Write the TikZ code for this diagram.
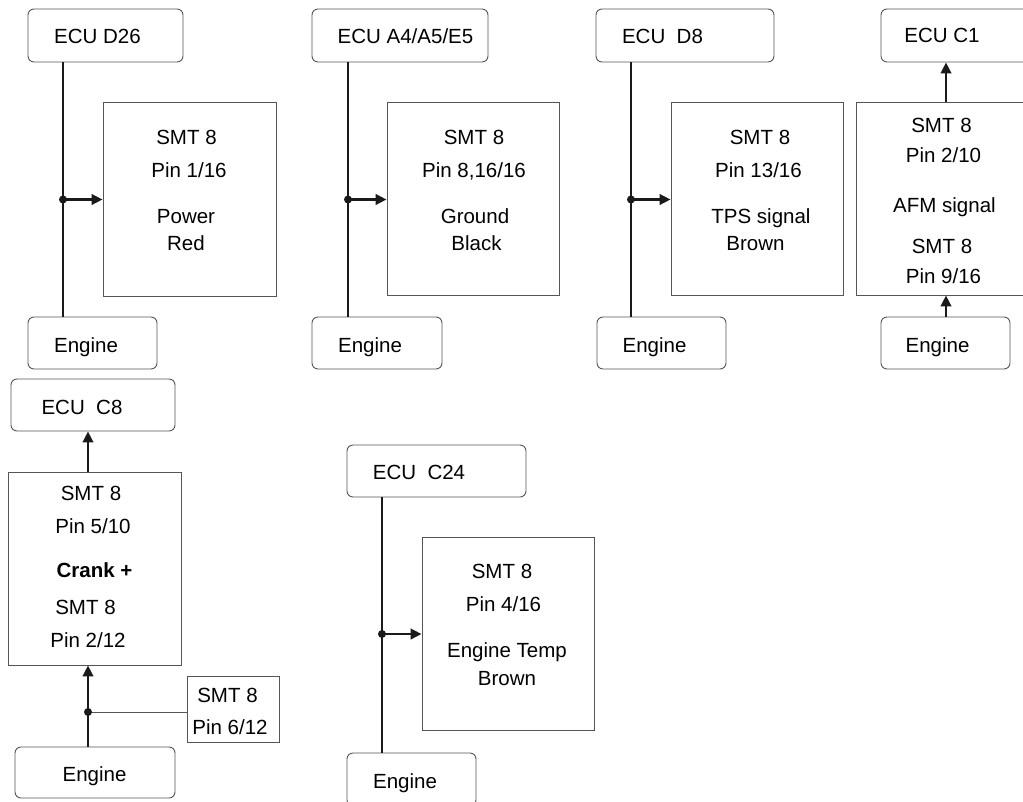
\documentclass[tikz,border=0pt]{standalone}
\usepackage{fontspec}
\setmainfont{Liberation Sans}
\usetikzlibrary{arrows.meta}
\definecolor{boxgray}{HTML}{555555}
\definecolor{wirecol}{HTML}{1A1A1A}
\tikzset{
  ecubox/.style={draw=boxgray, line width=0.9pt, rounded corners=6pt, rectangle, inner sep=0pt},
  smtbox/.style={draw=boxgray, line width=0.9pt, rectangle, inner sep=0pt},
  txt/.style={anchor=base, inner sep=0pt, font=\fontsize{20.5}{24}\selectfont},
  btxt/.style={txt, font=\fontsize{20.5}{24}\selectfont\bfseries},
  wire/.style={draw=wirecol, line width=2.5pt},
  arr/.style={-{Triangle[length=11pt,width=10.5pt]}},
  thin/.style={draw=boxgray, line width=0.9pt},
}
\begin{document}
\begin{tikzpicture}[x=1pt,y=-1pt]
\useasboundingbox (0,0) rectangle (1023,801);
\clip (0,0) rectangle (1023,801);
\fill[white] (0,0) rectangle (1023,801);

% ---------- Panel 1 ----------
\node[ecubox, minimum width=155pt, minimum height=53pt] (e1) at (105.5,35.5) {};
\node[smtbox, minimum width=173pt, minimum height=194pt] (s1) at (189.5,199) {};
\node[ecubox, minimum width=129pt, minimum height=52pt] (g1) at (92.5,343) {};
\node[txt] (e1t) at (97.5,43) {ECU D26};
\node[txt] (s1a) at (186.5,144) {SMT 8};
\node[txt] (s1b) at (189,177) {Pin 1/16};
\node[txt] (s1c) at (186,223) {Power};
\node[txt] (s1d) at (186,250) {Red};
\node[txt] (g1t) at (86,352) {Engine};
\coordinate (d1) at (63,199.5);
\draw[wire] (e1.south -| d1) -- (g1.north -| d1);
\fill[wirecol] (d1) circle (4pt);
\draw[wire,arr] (d1) -- (d1 -| s1.west);

% ---------- Panel 2 ----------
\node[ecubox, minimum width=176pt, minimum height=53pt] (e2) at (400,35.5) {};
\node[smtbox, minimum width=172pt, minimum height=193pt] (s2) at (473,198.5) {};
\node[ecubox, minimum width=130pt, minimum height=52pt] (g2) at (377,343) {};
\node[txt] (e2t) at (405.5,43) {ECU A4/A5/E5};
\node[txt] (s2a) at (474,144) {SMT 8};
\node[txt] (s2b) at (474,177) {Pin 8,16/16};
\node[txt] (s2c) at (475,223) {Ground};
\node[txt] (s2d) at (476.5,250) {Black};
\node[txt] (g2t) at (370,352) {Engine};
\coordinate (d2) at (348,199.5);
\draw[wire] (e2.south -| d2) -- (g2.north -| d2);
\fill[wirecol] (d2) circle (4pt);
\draw[wire,arr] (d2) -- (d2 -| s2.west);

% ---------- Panel 3 ----------
\node[ecubox, minimum width=178pt, minimum height=53pt] (e3) at (685,35.5) {};
\node[smtbox, minimum width=172pt, minimum height=193pt] (s3) at (757,198.5) {};
\node[ecubox, minimum width=129pt, minimum height=52pt] (g3) at (661.5,343) {};
\node[txt] (e3t) at (662.5,43) {ECU\ \ D8};
\node[txt] (s3a) at (760,144) {SMT 8};
\node[txt] (s3b) at (758.5,177) {Pin 13/16};
\node[txt] (s3c) at (761,223) {TPS signal};
\node[txt] (s3d) at (755.5,250) {Brown};
\node[txt] (g3t) at (654.5,352) {Engine};
\coordinate (d3) at (631,199.5);
\draw[wire] (e3.south -| d3) -- (g3.north -| d3);
\fill[wirecol] (d3) circle (4pt);
\draw[wire,arr] (d3) -- (d3 -| s3.west);

% ---------- Panel 4 ----------
\node[ecubox, minimum width=154pt, minimum height=53pt] (e4) at (958,35.5) {};
\node[smtbox, minimum width=179pt, minimum height=193pt] (s4) at (945.5,198.5) {};
\node[ecubox, minimum width=129pt, minimum height=52pt] (g4) at (945.5,343) {};
\node[txt] (e4t) at (942,42) {ECU C1};
\node[txt] (s4a) at (941.5,132) {SMT 8};
\node[txt] (s4b) at (943.5,162) {Pin 2/10};
\node[txt] (s4c) at (944.5,212) {AFM signal};
\node[txt] (s4d) at (942,253) {SMT 8};
\node[txt] (s4e) at (943.5,283) {Pin 9/16};
\node[txt] (g4t) at (937.5,352) {Engine};
\coordinate (a4) at (946,200);
\draw[wire,arr] (s4.north -| a4) -- (e4.south -| a4);
\draw[wire,arr] (g4.north -| a4) -- (s4.south -| a4);

% ---------- Panel 5 ----------
\node[ecubox, minimum width=164pt, minimum height=52pt] (e5) at (93,405) {};
\node[smtbox, minimum width=173pt, minimum height=193pt] (s5) at (94.5,568.5) {};
\node[smtbox, minimum width=92pt, minimum height=66pt] (p5) at (233,709) {};
\node[ecubox, minimum width=160pt, minimum height=51pt] (g5) at (95,772.5) {};
\node[txt] (e5t) at (82,414) {ECU\ \ C8};
\node[txt] (s5a) at (91,500) {SMT 8};
\node[txt] (s5b) at (93,533) {Pin 5/10};
\node[btxt] (s5c) at (94.5,577) {Crank +};
\node[txt] (s5d) at (85.5,614) {SMT 8};
\node[txt] (s5e) at (88,647) {Pin 2/12};
\node[txt] (p5a) at (227.5,702) {SMT 8};
\node[txt] (p5b) at (230,734) {Pin 6/12};
\node[txt] (g5t) at (94.5,781) {Engine};
\coordinate (d5) at (88,712);
\draw[wire,arr] (s5.north -| d5) -- (e5.south -| d5);
\draw[wire,arr] (g5.north -| d5) -- (s5.south -| d5);
\draw[thin] (d5) -- (d5 -| p5.west);
\fill[wirecol] (d5) circle (4pt);

% ---------- Panel 6 ----------
\node[ecubox, minimum width=179pt, minimum height=52pt] (e6) at (436.5,471) {};
\node[smtbox, minimum width=172pt, minimum height=193pt] (s6) at (508,633.5) {};
\node[ecubox, minimum width=129pt, minimum height=53pt] (g6) at (411.5,779.5) {};
\node[txt] (e6t) at (419,479) {ECU\ \ C24};
\node[txt] (s6a) at (502,578) {SMT 8};
\node[txt] (s6b) at (503.5,611) {Pin 4/16};
\node[txt] (s6c) at (507,657) {Engine Temp};
\node[txt] (s6d) at (507,685) {Brown};
\node[txt] (g6t) at (405,788) {Engine};
\coordinate (d6) at (382,634);
\draw[wire] (e6.south -| d6) -- (g6.north -| d6);
\fill[wirecol] (d6) circle (4pt);
\draw[wire,arr] (d6) -- (d6 -| s6.west);
\end{tikzpicture}
\end{document}
